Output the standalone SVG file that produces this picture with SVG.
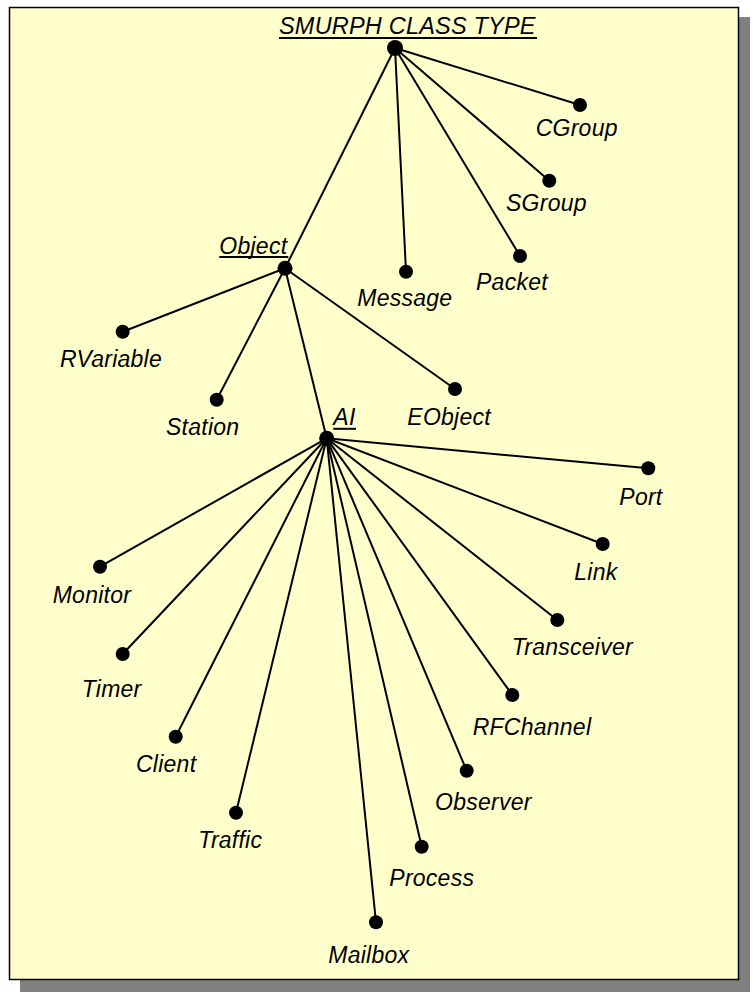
<svg xmlns="http://www.w3.org/2000/svg" width="754" height="994" viewBox="0 0 754 994">
<style>
.lbl{font-family:"Liberation Sans",Arial,sans-serif;font-style:italic;font-size:23px;letter-spacing:0.25px;fill:#000}
.ttl{font-size:23.5px;letter-spacing:0.2px}
.dot{fill:#000}
.ul{stroke:#000;stroke-width:2}
#connectors line{stroke:#000;stroke-width:2}
</style>
<rect x="20" y="17" width="730" height="975" fill="#808080"/>
<rect x="9.5" y="7.5" width="729" height="972" fill="#FFFFCC" stroke="#000" stroke-width="1.5"/>
<g id="connectors">
<line x1="395" y1="48" x2="580" y2="105"/>
<line x1="395" y1="48" x2="549.3" y2="180.7"/>
<line x1="395" y1="48" x2="520" y2="256"/>
<line x1="395" y1="48" x2="406" y2="271.7"/>
<line x1="395" y1="48" x2="285" y2="268.3"/>
<line x1="285" y1="268.3" x2="122.7" y2="331.7"/>
<line x1="285" y1="268.3" x2="216.7" y2="399.7"/>
<line x1="285" y1="268.3" x2="455" y2="389"/>
<line x1="285" y1="268.3" x2="326.7" y2="438.3"/>
<line x1="326.7" y1="438.3" x2="648.3" y2="468.3"/>
<line x1="326.7" y1="438.3" x2="602.7" y2="544"/>
<line x1="326.7" y1="438.3" x2="557.3" y2="620"/>
<line x1="326.7" y1="438.3" x2="512.3" y2="695"/>
<line x1="326.7" y1="438.3" x2="466.7" y2="770.8"/>
<line x1="326.7" y1="438.3" x2="421.7" y2="846.7"/>
<line x1="326.7" y1="438.3" x2="376" y2="922.3"/>
<line x1="326.7" y1="438.3" x2="236" y2="812.7"/>
<line x1="326.7" y1="438.3" x2="175.7" y2="736.7"/>
<line x1="326.7" y1="438.3" x2="122.7" y2="654"/>
<line x1="326.7" y1="438.3" x2="100" y2="566.7"/>
</g>
<g id="root">
<circle class="dot" cx="395" cy="48" r="8"/>
<text class="lbl ttl" x="279" y="34">SMURPH CLASS TYPE</text>
<line class="ul" x1="279" y1="38" x2="537" y2="38"/>
</g>
<g id="cgroup"><circle class="dot" cx="580" cy="105" r="7"/><text class="lbl" x="535.7" y="135.5">CGroup</text></g>
<g id="sgroup"><circle class="dot" cx="549.3" cy="180.7" r="7"/><text class="lbl" x="506" y="210.5">SGroup</text></g>
<g id="packet"><circle class="dot" cx="520" cy="256" r="7"/><text class="lbl" x="476" y="290.3">Packet</text></g>
<g id="message"><circle class="dot" cx="406" cy="271.7" r="7"/><text class="lbl" x="357.3" y="306">Message</text></g>
<g id="object">
<circle class="dot" cx="285" cy="268.3" r="7.5"/>
<text class="lbl" x="219.3" y="254">Object</text>
<line class="ul" x1="219.3" y1="257" x2="288.3" y2="257"/>
</g>
<g id="rvariable"><circle class="dot" cx="122.7" cy="331.7" r="7"/><text class="lbl" x="60" y="367">RVariable</text></g>
<g id="station"><circle class="dot" cx="216.7" cy="399.7" r="7"/><text class="lbl" x="166" y="435.3">Station</text></g>
<g id="eobject"><circle class="dot" cx="455" cy="389" r="7"/><text class="lbl" x="407.3" y="424.6">EObject</text></g>
<g id="ai">
<circle class="dot" cx="326.7" cy="438.3" r="7.5"/>
<text class="lbl" x="333.3" y="425">AI</text>
<line class="ul" x1="333.3" y1="428.8" x2="356" y2="428.8"/>
</g>
<g id="port"><circle class="dot" cx="648.3" cy="468.3" r="7"/><text class="lbl" x="619.3" y="504.6">Port</text></g>
<g id="link"><circle class="dot" cx="602.7" cy="544" r="7"/><text class="lbl" x="574.3" y="579.6">Link</text></g>
<g id="transceiver"><circle class="dot" cx="557.3" cy="620" r="7"/><text class="lbl" x="511.7" y="654.6">Transceiver</text></g>
<g id="rfchannel"><circle class="dot" cx="512.3" cy="695" r="7"/><text class="lbl" x="472.7" y="734.6">RFChannel</text></g>
<g id="observer"><circle class="dot" cx="466.7" cy="770.8" r="7"/><text class="lbl" x="435" y="810">Observer</text></g>
<g id="process"><circle class="dot" cx="421.7" cy="846.7" r="7"/><text class="lbl" x="389.3" y="886.3">Process</text></g>
<g id="mailbox"><circle class="dot" cx="376" cy="922.3" r="7"/><text class="lbl" x="328.3" y="963">Mailbox</text></g>
<g id="traffic"><circle class="dot" cx="236" cy="812.7" r="7"/><text class="lbl" x="198.3" y="848">Traffic</text></g>
<g id="client"><circle class="dot" cx="175.7" cy="736.7" r="7"/><text class="lbl" x="136" y="772.3">Client</text></g>
<g id="timer"><circle class="dot" cx="122.7" cy="654" r="7"/><text class="lbl" x="81.7" y="697.3">Timer</text></g>
<g id="monitor"><circle class="dot" cx="100" cy="566.7" r="7"/><text class="lbl" x="52.7" y="603">Monitor</text></g>
</svg>
